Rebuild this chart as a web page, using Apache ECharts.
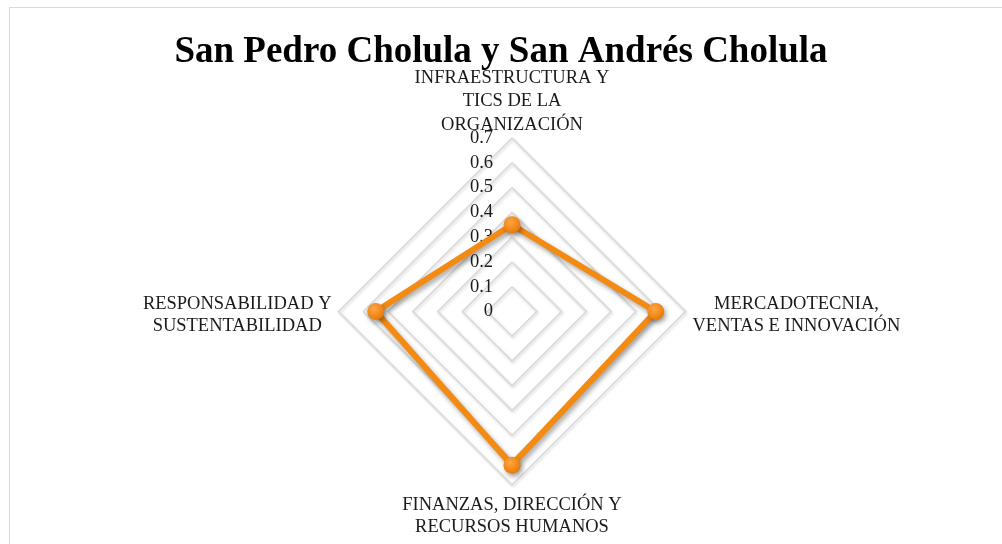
<!DOCTYPE html>
<html>
<head>
<meta charset="utf-8">
<script src="https://cdn.jsdelivr.net/npm/echarts@6/dist/echarts.min.js"></script>
<style>
  html, body { margin: 0; padding: 0; background: #fff; }
  #chart { width: 1002px; height: 544px; }
</style>
</head>
<body>
<div id="chart"></div>
<script>
// Dimensions (top first, then counter-clockwise as ECharts lays them out)
const titleText = 'San Pedro Cholula y San Andrés Cholula';
const dimensionNames = [
  'INFRAESTRUCTURA Y\nTICS DE LA\nORGANIZACIÓN',
  'RESPONSABILIDAD Y\nSUSTENTABILIDAD',
  'FINANZAS, DIRECCIÓN Y\nRECURSOS HUMANOS',
  'MERCADOTECNIA,\nVENTAS E INNOVACIÓN'
];
const scores = [0.35, 0.55, 0.62, 0.58];
const scaleMax = 0.7;
const scaleSteps = 7;

const serif = '"Liberation Serif", "Times New Roman", serif';
const textColor = '#1a1a1a';
const orange = '#F38A12';

const chart = echarts.init(document.getElementById('chart'), null, { renderer: 'canvas' });

const indicators = dimensionNames.map(function (name, i) {
  const ind = { name: name, min: 0, max: scaleMax, nameMoveOverlap: false };
  if (i === 0) {
    // value scale printed along the upward axis only
    ind.axisLabel = { show: true };
  }
  return ind;
});

chart.setOption({
  backgroundColor: '#fff',
  animation: false,
  title: {
    text: titleText,
    left: 'center',
    top: 29,
    textStyle: {
      fontFamily: serif,
      fontWeight: 'bold',
      fontSize: 37,
      color: '#000'
    }
  },
  graphic: [{
    type: 'rect',
    silent: true,
    shape: { x: 9.5, y: 7.5, width: 1100, height: 700 },
    style: { fill: 'none', stroke: '#d9d9d9', lineWidth: 1 }
  }],
  radar: {
    center: [512, 311.5],
    radius: 173.5,
    startAngle: 90,
    shape: 'polygon',
    splitNumber: scaleSteps,
    nameGap: 1.5,
    nameMoveOverlap: false,
    axisName: {
      color: textColor,
      fontFamily: serif,
      fontSize: 18.5,
      lineHeight: 22,
      padding: [8, 5.5, 0, 5.5],
      formatter: function (name) {
        const tag = name.indexOf('INFRA') === 0 ? 't' : 'c';
        return name.split('\n').map(function (l) { return '{' + tag + '|' + l + '}'; }).join('\n');
      },
      rich: {
        c: { align: 'center', fontFamily: serif, fontSize: 18.5, lineHeight: 22, color: textColor },
        t: { align: 'center', fontFamily: serif, fontSize: 18.5, lineHeight: 23.5, color: textColor }
      }
    },
    axisLine: { show: false },
    axisTick: { show: false },
    axisLabel: {
      show: false,
      margin: 19,
      fontFamily: serif,
      fontSize: 18.5,
      color: textColor,
      formatter: function (v) { return String(Math.round(v * 10) / 10); }
    },
    splitArea: { show: false },
    splitLine: {
      lineStyle: {
        color: '#d9d9d9',
        width: 1.5,
        shadowColor: 'rgba(0,0,0,0.18)',
        shadowBlur: 3,
        shadowOffsetX: 1,
        shadowOffsetY: 1.5
      }
    },
    indicator: indicators
  },
  series: [{
    type: 'radar',
    symbol: 'circle',
    symbolSize: 17,
    lineStyle: {
      color: orange,
      width: 6,
      shadowColor: 'rgba(0,0,0,0.35)',
      shadowBlur: 5,
      shadowOffsetX: 2,
      shadowOffsetY: 3
    },
    itemStyle: {
      color: new echarts.graphic.RadialGradient(0.4, 0.35, 0.65, [
        { offset: 0, color: '#FFA646' },
        { offset: 1, color: '#EA7A06' }
      ]),
      shadowColor: 'rgba(0,0,0,0.35)',
      shadowBlur: 5,
      shadowOffsetX: 2,
      shadowOffsetY: 3
    },
    data: [{ value: scores, name: titleText }]
  }]
});
</script>
</body>
</html>
